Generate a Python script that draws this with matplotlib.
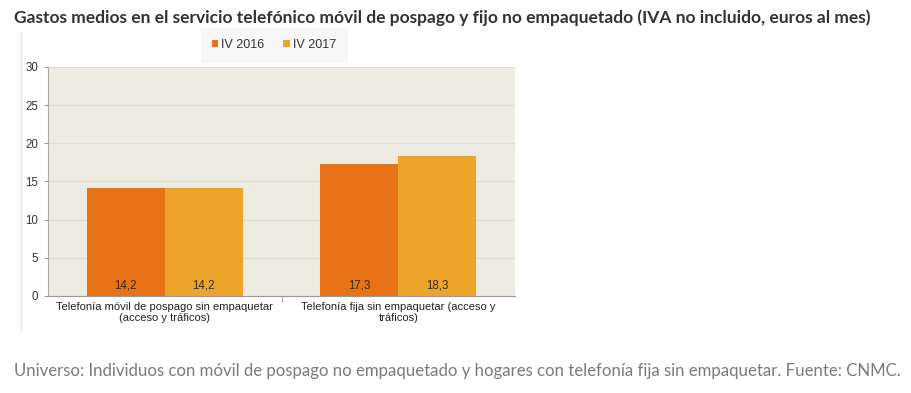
import matplotlib.pyplot as plt
import numpy as np

# data
categories = ["Telefonía móvil de pospago sin empaquetar\n(acceso y tráficos)",
              "Telefonía fija sin empaquetar (acceso y\ntráficos)"]
series_names = ["IV 2016", "IV 2017"]
values_2016 = [14.2, 17.3]
values_2017 = [14.2, 18.3]

title = "Gastos medios en el servicio telefónico móvil de pospago y fijo no empaquetado (IVA no incluido, euros al mes)"
footer = ("Universo: Individuos con móvil de pospago no empaquetado y hogares con "
          "telefonía fija sin empaquetar. Fuente: CNMC.")

c16 = "#E87216"
c17 = "#ECA52A"

fig = plt.figure(figsize=(9.11, 3.93), dpi=100)
fig.patch.set_facecolor("white")

fig.text(14 / 911, 1 - 18 / 393, title, fontsize=12.5, fontweight="bold",
         family="Lato", color="#333333", va="center", ha="left")
fig.text(14 / 911, 1 - 371 / 393, footer, fontsize=12.05, family="Lato",
         color="#7a7a7a", va="center", ha="left")

# faint border of the embedded chart image
fig.add_artist(plt.Line2D([21 / 911, 21 / 911], [1 - 32 / 393, 1 - 330 / 393],
                          color="#e6e6e6", lw=1))

ax = fig.add_axes([48 / 911, 1 - 296 / 393, 467 / 911, 229 / 393])
ax.set_facecolor("#EEEBE2")

x = np.arange(len(categories))
w = 0.335
b1 = ax.bar(x - w / 2, values_2016, w, color=c16, label=series_names[0], zorder=3)
b2 = ax.bar(x + w / 2, values_2017, w, color=c17, label=series_names[1], zorder=3)

for bars, vals in ((b1, values_2016), (b2, values_2017)):
    for r, v in zip(bars, vals):
        ax.text(r.get_x() + r.get_width() / 2, 1.4, f"{v:.1f}".replace(".", ","),
                ha="center", va="center", fontsize=8.3, family="Liberation Sans",
                color="#3a2a10", zorder=4)

ax.set_xlim(-0.5, 1.5)
ax.set_ylim(0, 30)
ax.set_yticks(range(0, 31, 5))
ax.yaxis.grid(True, color="#E0DCD2", lw=0.9, zorder=0)
ax.tick_params(axis="y", labelsize=8.3, colors="#444444", length=3, width=0.8,
               color="#999999", pad=4)
ax.set_xticks([0.5], minor=True)
ax.set_xticks(x)
ax.set_xticklabels(categories, fontsize=8, family="Liberation Sans", color="#222222")
ax.tick_params(axis="x", which="major", length=0, pad=4)
ax.tick_params(axis="x", which="minor", length=4, color="#999999")
for lbl in ax.get_yticklabels():
    lbl.set_family("Liberation Sans")
    lbl.set_color("#333333")

for s in ("top", "right"):
    ax.spines[s].set_visible(False)
ax.spines["left"].set_color("#aaaaaa")
ax.spines["bottom"].set_color("#999999")
ax.spines["left"].set_linewidth(0.8)
ax.spines["bottom"].set_linewidth(0.8)

leg = fig.legend(handles=[b1, b2], loc="center", bbox_to_anchor=(274 / 911, 1 - 45 / 393),
                 ncol=2, frameon=True, handlelength=0.5, handleheight=0.5,
                 handletextpad=0.25, columnspacing=1.5, borderpad=0.9,
                 borderaxespad=0, prop={"family": "Liberation Sans", "size": 9})
leg.get_frame().set_facecolor("#F6F6F6")
leg.get_frame().set_edgecolor("#F6F6F6")
leg.get_frame().set_boxstyle("square", pad=0.0)
for t in leg.get_texts():
    t.set_color("#333333")

fig.savefig("out.png", dpi=100)
